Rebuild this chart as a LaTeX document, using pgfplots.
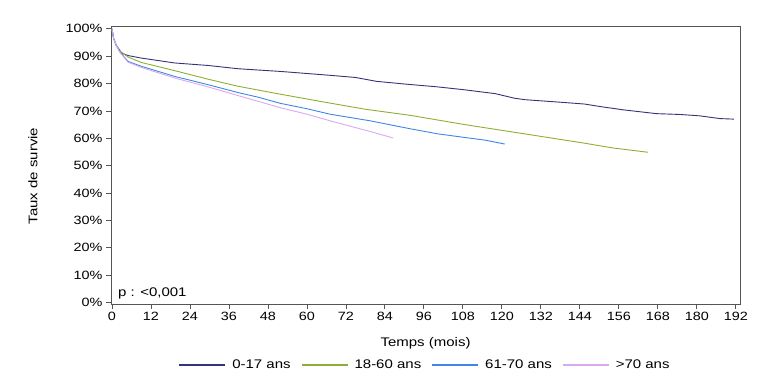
\documentclass[border=0pt]{standalone}
\usepackage{pgfplots}
\pgfplotsset{compat=1.18}
\usepackage{fontspec}
\setmainfont{Liberation Sans}[FakeStretch=1.2]
\definecolor{cnavy}{HTML}{33337A}
\definecolor{cgreen}{HTML}{8FAE35}
\definecolor{cblue}{HTML}{3F86E6}
\definecolor{cpurple}{HTML}{D9A9EE}
\definecolor{axgray}{HTML}{555555}
\begin{document}
\begin{tikzpicture}
\begin{axis}[
  at={(0,0)}, anchor=south west,
  scale only axis, width=629pt, height=278pt,
  xmin=-0.3, xmax=193.3, ymin=-0.5, ymax=101,
  xtick={0,12,...,192}, ytick={0,10,...,100},
  yticklabel={\pgfmathprintnumber{\tick}\%},
  /pgf/number format/assume math mode=true,
  tick align=outside, tick pos=left, major tick length=5pt,
  axis line style={axgray, line width=0.9pt},
  tick style={axgray, line width=0.8pt},
  every tick label/.append style={font=\fontsize{12}{14}\selectfont, text=black},
  xlabel={Temps (mois)}, ylabel={Taux de survie},
  label style={font=\fontsize{12.5}{14}\selectfont},
  xlabel style={at={(axis description cs:0.5,-0.14)}, anchor=center},
  ylabel style={at={(axis description cs:-0.124,0.46)}, anchor=center},
  legend style={at={(0.5,-0.22)}, anchor=center, draw=none, legend columns=4,
    font=\fontsize{12.5}{14}\selectfont,
    /tikz/every odd column/.append style={column sep=5pt},
    /tikz/every even column/.append style={column sep=9pt}},
  legend image code/.code={\fill[#1] (0pt,-0.55pt) rectangle (45pt,0.55pt);},
]
\addplot[color=cnavy, line width=0.9pt] coordinates {
(0,100) (0.5,96.5) (1.3,94) (2.3,92.3) (2.9,91.1) (5,90.2) (9,89.3) (19.3,87.5) (29.5,86.6) (38.8,85.4) (52,84.4) (67.1,83.0) (75,82.2) (81.4,80.8) (90.2,79.8) (100,78.8) (108.6,77.7) (118,76.3) (124,74.6) (127.1,74.1) (140,73.0) (145.5,72.5) (150.2,71.6) (157.3,70.4) (167.6,69.0) (174.8,68.7) (180.9,68.2) (187.1,67.2) (191.4,67.0)};
\addlegendentry{0-17 ans}
\addplot[color=cgreen, line width=0.9pt] coordinates {
(0,100) (0.5,96.5) (1.3,94) (2.3,92) (4.9,89.7) (9,87.7) (19.3,84.7) (29.5,81.6) (38.8,79.0) (50,76.5) (64,73.5) (78,70.6) (91.7,68.4) (108.6,65.0) (127.1,61.6) (145,58.3) (154,56.5) (165,54.9)};
\addlegendentry{18-60 ans}
\addplot[color=cblue, line width=0.9pt] coordinates {
(0,100) (0.5,96.5) (1.3,94) (2.3,91.8) (4.9,88.1) (9,86.3) (19.3,82.6) (29.5,79.6) (38.8,76.7) (45,75.0) (51.7,72.8) (60,70.8) (67.1,68.8) (79.4,66.4) (91.7,63.5) (100.4,61.6) (108.6,60.3) (115,59.3) (120.9,57.9)};
\addlegendentry{61-70 ans}
\addplot[color=cpurple, line width=0.9pt] coordinates {
(0,100) (0.5,96.5) (1.3,94) (2.3,91.6) (4.9,87.8) (9,85.9) (19.3,82.0) (29.5,78.8) (38.8,75.6) (51.7,71.2) (60,68.8) (67.1,66.4) (79.4,62.5) (86.6,60.1)};
\addlegendentry{>70 ans}
\node[anchor=base west, font=\fontsize{12.5}{14}\selectfont, inner sep=0pt] at (axis cs:1.8,2.3) {p : <0,001};
\end{axis}
\path[use as bounding box] (-111pt,-85pt) rectangle (646pt,304pt);
\end{tikzpicture}
\end{document}
